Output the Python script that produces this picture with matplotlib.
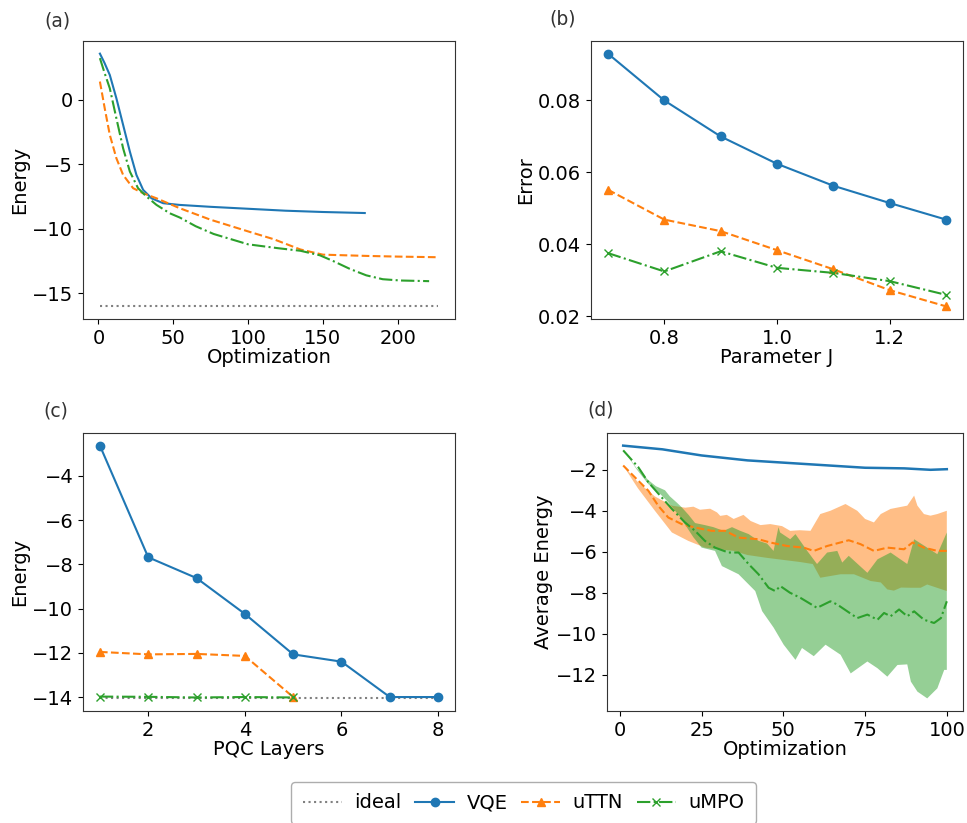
import matplotlib
matplotlib.use("Agg")
import matplotlib.pyplot as plt
import numpy as np

# ---- (a) energy vs optimization step ----
a_vqe_x = [1, 4, 7.6, 12, 16.5, 21, 25.4, 29.9, 35.5, 43.3, 54, 75, 100, 125,
           150, 178]
a_vqe_y = [3.55, 2.85, 1.9, 0.1, -1.96, -4.02, -5.83, -6.99, -7.64, -8.02, -8.15,
           -8.3, -8.45, -8.6, -8.7, -8.78]
a_ttn_x = [1, 4.2, 7.6, 12, 16.5, 23.2, 29.9, 38.8, 54.4, 75, 100, 117, 135,
           150, 165, 180, 200, 227]
a_ttn_y = [1.39, -0.67, -2.73, -4.54, -5.83, -6.86, -7.25, -7.64, -8.41, -9.3,
           -10.2, -10.8, -11.6, -12.0, -12.05, -12.1, -12.15, -12.2]
a_mpo_x = [1, 4, 7.6, 12, 16.5, 21, 26.5, 32.1, 38.8, 47.7, 54.4, 65, 77, 100,
           120, 135, 148, 157, 168, 179, 190, 202, 221]
a_mpo_y = [3.2, 2.1, 0.87, -1.45, -3.77, -5.57, -6.86, -7.5, -8.15, -8.8, -9.13,
           -9.8, -10.4, -11.2, -11.5, -11.7, -12.05, -12.5, -13.1, -13.6, -13.9,
           -14.0, -14.05]
a_ideal_x = [1, 227]
a_ideal_y = [-16, -16]

# ---- (b) error vs parameter J ----
b_j = [0.7, 0.8, 0.9, 1.0, 1.1, 1.2, 1.3]
b_vqe = [0.093, 0.080, 0.070, 0.0624, 0.0563, 0.0515, 0.0469]
b_ttn = [0.0552, 0.0469, 0.0437, 0.0384, 0.0331, 0.0273, 0.0228]
b_mpo = [0.0376, 0.0325, 0.0381, 0.0335, 0.0321, 0.0298, 0.0260]

# ---- (c) energy vs PQC layers ----
c_vqe_x = [1, 2, 3, 4, 5, 6, 7, 8]
c_vqe_y = [-2.63, -7.68, -8.62, -10.24, -12.07, -12.40, -14.0, -14.0]
c_ttn_x = [1, 2, 3, 4, 5]
c_ttn_y = [-11.96, -12.07, -12.05, -12.14, -14.0]
c_mpo_x = [1, 2, 3, 4, 5]
c_mpo_y = [-13.98, -13.99, -14.02, -14.0, -14.02]
c_ideal_x = [1, 8]
c_ideal_y = [-14.06, -14.06]

# ---- (d) average energy with spread ----
d_vqe_x = [1, 13, 25, 39, 50, 62, 75, 87, 95, 100]
d_vqe_y = [-0.82, -1.0, -1.3, -1.54, -1.65, -1.77, -1.9, -1.93, -2.0, -1.97]

d_ttn_x = [1, 5.6, 8.7, 11.7, 14.8, 18.9, 23, 28.1, 32.2, 36.3, 42.4, 46, 51.1,
           56.2, 59.3, 63.4, 70, 73.6, 77.7, 81.8, 86.9, 89.5, 93, 97.1, 100]
d_ttn_y = [-1.79, -2.53, -3.02, -3.75, -4.33, -4.65, -4.82, -4.98, -4.98, -5.31,
           -5.39, -5.55, -5.72, -5.8, -5.96, -5.72, -5.44, -5.63, -5.96, -5.8,
           -5.88, -5.55, -5.8, -5.96, -5.96]
d_ttn_hi_x = [1, 5.5, 10.7, 15.9, 20, 22.5, 24.5, 27.6, 29.7, 30.7, 32.7, 34.8,
              37.8, 40, 43, 46, 49.6, 52.1, 55, 58.3, 61.3, 64.4, 69, 72.6, 75,
              77.7, 79.8, 82.8, 87.9, 90, 91, 93, 95, 97.1, 100]
d_ttn_hi_y = [-1.79, -2.6, -3.3, -3.75, -3.85, -3.8, -3.95, -3.9, -4.08, -4.25,
              -4.2, -4.4, -4.2, -4.5, -4.7, -4.65, -4.75, -4.98, -4.95, -4.98,
              -4.16, -4.0, -3.67, -4.0, -4.4, -4.57, -4.16, -3.91, -3.75, -3.26,
              -3.75, -4.16, -4.24, -4.16, -4.0]
d_ttn_lo_x = [1, 5.5, 10.7, 15.9, 20.9, 26, 28.6, 34.8, 39, 45, 50, 55, 59, 61.3,
              67.5, 71.6, 76.7, 79.8, 81.8, 83.8, 86, 89, 92, 94, 100]
d_ttn_lo_y = [-1.79, -2.9, -4.0, -5.06, -5.47, -5.8, -5.85, -5.96, -6.16, -6.3,
              -6.4, -6.5, -6.6, -7.27, -7.1, -7.1, -7.43, -7.5, -7.84, -7.9,
              -7.75, -7.76, -7.76, -7.6, -7.92]

d_mpo_x = [1, 5.6, 8.7, 12.8, 15.9, 19.9, 23, 26, 29.1, 33.2, 36.3, 39.4, 42.4,
           45.5, 47.5, 49.1, 52, 55.2, 60.3, 64.4, 66.5, 72.6, 75.7, 78.8, 80.8,
           82.8, 85.4, 87.9, 90, 93, 96.1, 98.2, 100]
d_mpo_y = [-1.05, -1.87, -2.61, -3.35, -3.91, -4.57, -4.98, -5.47, -5.8, -6.04,
           -6.04, -6.61, -7.1, -7.76, -7.92, -7.68, -8.0, -8.25, -8.74, -8.42,
           -8.58, -9.24, -9.07, -9.32, -8.99, -9.15, -8.82, -9.15, -8.91, -9.32,
           -9.48, -9.24, -8.42]
d_mpo_hi_x = [1, 5, 8.7, 11, 13.8, 15.3, 17.4, 18.9, 21, 23, 26, 28.6, 31.7,
              34.3, 36.8, 39.4, 42.4, 45, 47, 48.5, 49, 52.1, 53.7, 57.3, 60.3,
              63.4, 66.5, 68, 70, 75.7, 78.8, 82.8, 87.9, 90, 94, 97.1, 100]
d_mpo_hi_y = [-1.0, -1.9, -2.5, -2.8, -3.0, -3.3, -3.6, -3.83, -4.2, -4.6, -4.7,
              -4.8, -4.98, -4.8, -4.98, -5.14, -5.47, -5.6, -5.96, -4.8, -5.06,
              -5.39, -5.14, -5.96, -6.6, -6.04, -5.96, -6.53, -6.2, -7.03, -6.37,
              -6.04, -6.6, -5.39, -5.8, -6.12, -5.06]
d_mpo_lo_x = [1, 5, 8.7, 11.2, 14.3, 18.4, 22.5, 25, 29.1, 31.2, 36.3, 41.4,
              43.5, 47, 50.1, 53.7, 55.7, 59.3, 62.9, 67.5, 70.6, 75.7, 78.8,
              81.8, 84.9, 87.9, 89, 91, 94, 97.1, 99.2, 100]
d_mpo_lo_y = [-1.0, -1.95, -2.7, -3.0, -3.5, -4.3, -5.3, -5.8, -5.96, -6.7,
              -7.1, -7.92, -8.9, -9.7, -10.54, -11.28, -10.7, -11.1, -10.54,
              -11.03, -11.94, -11.36, -11.69, -12.1, -11.53, -11.5, -12.34,
              -12.83, -13.16, -12.67, -11.77, -11.77]

C_VQE, C_TTN, C_MPO = "#1f77b4", "#ff7f0e", "#2ca02c"
FS = 14

W, H = 967, 823
fig = plt.figure(figsize=(W / 100, H / 100), dpi=100)


def box(l, t, r, b):
    return [l / W, 1 - b / H, (r - l) / W, (b - t) / H]


ax_a = fig.add_axes(box(83, 41, 455, 319))
ax_b = fig.add_axes(box(591, 41, 963, 319))
ax_c = fig.add_axes(box(83, 433, 455, 711))
ax_d = fig.add_axes(box(607, 433, 963, 711))

# (a)
ax_a.plot(a_vqe_x, a_vqe_y, color=C_VQE, lw=1.5)
ax_a.plot(a_ttn_x, a_ttn_y, color=C_TTN, lw=1.5, ls="--")
ax_a.plot(a_mpo_x, a_mpo_y, color=C_MPO, lw=1.5, ls="-.")
ax_a.plot(a_ideal_x, a_ideal_y, color="gray", lw=1.5, ls=":")
ax_a.set_xticks([0, 50, 100, 150, 200])
ax_a.set_yticks([0, -5, -10, -15])
ax_a.set_xlabel("Optimization", fontsize=FS, labelpad=0)
ax_a.set_ylabel("Energy", fontsize=FS, labelpad=2)

# (b)
ax_b.plot(b_j, b_vqe, color=C_VQE, lw=1.5, marker="o", ms=6)
ax_b.plot(b_j, b_ttn, color=C_TTN, lw=1.5, ls="--", marker="^", ms=6)
ax_b.plot(b_j, b_mpo, color=C_MPO, lw=1.5, ls="-.", marker="x", ms=6)
ax_b.set_xticks([0.8, 1.0, 1.2])
ax_b.set_yticks([0.02, 0.04, 0.06, 0.08])
ax_b.set_xlabel("Parameter J", fontsize=FS, labelpad=0)
ax_b.set_ylabel("Error", fontsize=FS, labelpad=2)

# (c)
ax_c.plot(c_ideal_x, c_ideal_y, color="gray", lw=1.5, ls=":", label="ideal")
ax_c.plot(c_vqe_x, c_vqe_y, color=C_VQE, lw=1.5, marker="o", ms=6, label="VQE")
ax_c.plot(c_ttn_x, c_ttn_y, color=C_TTN, lw=1.5, ls="--", marker="^", ms=6,
          label="uTTN")
ax_c.plot(c_mpo_x, c_mpo_y, color=C_MPO, lw=1.5, ls="-.", marker="x", ms=6,
          label="uMPO")
ax_c.set_xticks([2, 4, 6, 8])
ax_c.set_yticks([-4, -6, -8, -10, -12, -14])
ax_c.set_xlabel("PQC Layers", fontsize=FS, labelpad=0)
ax_c.set_ylabel("Energy", fontsize=FS, labelpad=2)

# (d)
ax_d.fill(np.r_[d_ttn_hi_x, d_ttn_lo_x[::-1]], np.r_[d_ttn_hi_y, d_ttn_lo_y[::-1]],
          color=C_TTN, alpha=0.5, lw=0)
ax_d.fill(np.r_[d_mpo_hi_x, d_mpo_lo_x[::-1]], np.r_[d_mpo_hi_y, d_mpo_lo_y[::-1]],
          color=C_MPO, alpha=0.5, lw=0)
ax_d.plot(d_vqe_x, d_vqe_y, color=C_VQE, lw=1.8)
ax_d.plot(d_ttn_x, d_ttn_y, color=C_TTN, lw=1.5, ls="--")
ax_d.plot(d_mpo_x, d_mpo_y, color=C_MPO, lw=1.5, ls="-.")
ax_d.set_xticks([0, 25, 50, 75, 100])
ax_d.set_yticks([-2, -4, -6, -8, -10, -12])
ax_d.set_xlabel("Optimization", fontsize=FS, labelpad=0)
ax_d.set_ylabel("Average Energy", fontsize=FS, labelpad=2)

for ax in (ax_a, ax_b, ax_c, ax_d):
    ax.tick_params(labelsize=FS)
    for s in ax.spines.values():
        s.set_color("#333333")

PL = dict(fontsize=13.5, ha="center", va="center", color="#333333")
fig.text(57 / W, 1 - 21 / H, "(a)", **PL)
fig.text(563 / W, 1 - 19 / H, "(b)", **PL)
fig.text(56 / W, 1 - 411 / H, "(c)", **PL)
fig.text(601 / W, 1 - 410 / H, "(d)", **PL)

# legend sits at the bottom edge, slightly clipped as in the source figure
handles, labels = ax_c.get_legend_handles_labels()
fig.legend(handles, labels, loc="center", ncol=4, fontsize=FS,
           bbox_to_anchor=(523.5 / W, 1 - 803 / H), handlelength=2.0,
           columnspacing=0.7, handletextpad=0.65, borderpad=0.6,
           edgecolor="#999999")

fig.savefig("out.png", dpi=100)
